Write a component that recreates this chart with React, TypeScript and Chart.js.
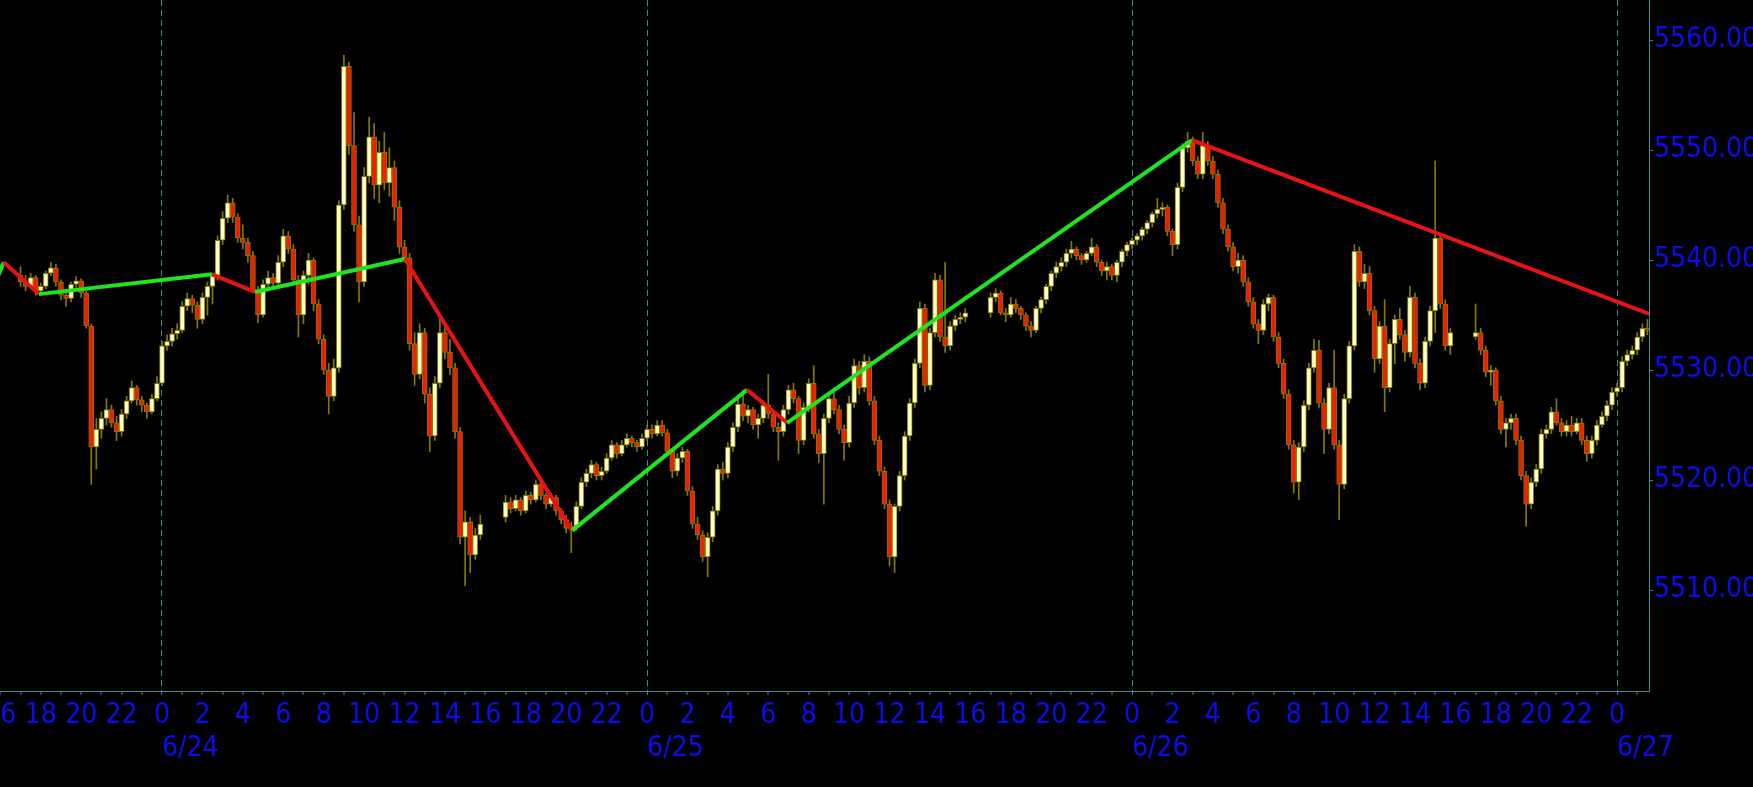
import React, { useEffect, useRef } from 'react';
import { Chart, registerables } from 'chart.js';

Chart.register(...registerables);

// ---- data -------------------------------------------------------------
// 15-minute candles [open, high, low, close]; hours relative to 6/24 00:00
const BAR_HOURS = 0.25;

const session1Start = -7; // 6/23 17:00
const session1: number[][] = [
  [5538.6, 5539.4, 5537.6, 5538.0], [5538.0, 5538.6, 5537.2, 5537.6], [5537.6, 5538.8, 5537.4, 5538.4], [5538.4, 5538.6, 5536.8, 5537.2],
  [5537.2, 5537.9, 5536.9, 5537.6], [5537.6, 5539.0, 5537.4, 5538.8], [5538.8, 5539.8, 5538.6, 5539.3], [5539.3, 5539.6, 5537.6, 5538.0],
  [5538.0, 5538.2, 5536.4, 5536.8], [5536.8, 5537.2, 5535.8, 5536.5], [5536.5, 5538.0, 5536.2, 5537.8], [5537.8, 5538.5, 5537.5, 5538.1],
  [5538.1, 5538.3, 5536.6, 5537.0], [5537.0, 5537.2, 5533.8, 5534.0], [5534.0, 5534.2, 5519.6, 5523.0], [5523.0, 5525.6, 5521.0, 5524.6],
  [5524.6, 5526.2, 5523.8, 5525.6], [5525.6, 5527.4, 5525.0, 5526.4], [5526.4, 5526.8, 5524.8, 5525.2], [5525.2, 5525.8, 5523.6, 5524.4],
  [5524.4, 5526.4, 5524.0, 5526.0], [5526.0, 5527.6, 5525.6, 5527.2], [5527.2, 5529.0, 5527.0, 5528.4], [5528.4, 5528.6, 5526.8, 5527.3],
  [5527.3, 5527.6, 5526.2, 5526.8], [5526.8, 5527.0, 5525.6, 5526.2], [5526.2, 5527.8, 5526.0, 5527.4], [5527.4, 5529.4, 5527.2, 5528.8],
  [5528.8, 5532.6, 5528.6, 5532.2], [5532.2, 5533.2, 5531.8, 5532.6], [5532.6, 5533.8, 5532.2, 5533.3], [5533.3, 5534.2, 5532.8, 5533.6],
  [5533.6, 5536.2, 5533.4, 5535.8], [5535.8, 5537.0, 5535.4, 5536.5], [5536.5, 5536.8, 5535.2, 5535.9], [5535.9, 5536.2, 5533.8, 5534.6],
  [5534.6, 5537.0, 5534.2, 5536.6], [5536.6, 5538.0, 5535.0, 5537.6], [5537.6, 5538.8, 5536.0, 5538.6], [5538.6, 5542.2, 5538.2, 5541.8],
  [5541.8, 5544.4, 5541.4, 5543.8], [5543.8, 5545.9, 5543.4, 5545.2], [5545.2, 5545.6, 5543.4, 5543.9], [5543.9, 5544.2, 5541.6, 5542.0],
  [5542.0, 5543.2, 5541.0, 5541.6], [5541.6, 5542.0, 5539.8, 5540.4], [5540.4, 5540.8, 5537.0, 5537.2], [5537.2, 5537.6, 5534.3, 5535.0],
  [5535.0, 5538.2, 5534.8, 5537.8], [5537.8, 5539.0, 5537.2, 5538.4], [5538.4, 5538.8, 5537.4, 5537.9], [5537.9, 5540.4, 5537.6, 5539.8],
  [5539.8, 5542.8, 5539.4, 5542.2], [5542.2, 5542.6, 5540.6, 5541.0], [5541.0, 5541.4, 5537.8, 5538.2], [5538.2, 5538.6, 5533.0, 5535.0],
  [5535.0, 5539.0, 5534.2, 5538.6], [5538.6, 5540.6, 5537.8, 5540.0], [5540.0, 5540.2, 5535.4, 5536.0], [5536.0, 5536.4, 5532.4, 5532.8],
  [5532.8, 5533.2, 5529.6, 5530.0], [5530.0, 5530.6, 5526.0, 5527.6], [5527.6, 5531.0, 5527.2, 5530.2], [5530.2, 5545.4, 5529.8, 5545.0],
  [5545.0, 5558.6, 5544.6, 5557.6], [5557.6, 5558.0, 5549.6, 5550.4], [5550.4, 5553.4, 5542.6, 5543.2], [5543.2, 5544.0, 5536.2, 5538.0],
  [5538.0, 5548.4, 5537.6, 5547.6], [5547.6, 5553.0, 5547.0, 5551.2], [5551.2, 5552.4, 5545.6, 5546.8], [5546.8, 5550.8, 5545.2, 5549.8],
  [5549.8, 5551.6, 5546.4, 5547.0], [5547.0, 5550.2, 5545.8, 5548.4], [5548.4, 5549.0, 5543.6, 5544.8], [5544.8, 5545.4, 5540.6, 5541.2],
  [5541.2, 5541.8, 5539.8, 5540.2], [5540.2, 5540.6, 5531.8, 5532.4], [5532.4, 5533.4, 5528.6, 5529.6], [5529.6, 5534.2, 5529.2, 5533.4],
  [5533.4, 5533.8, 5527.0, 5527.8], [5527.8, 5528.4, 5522.6, 5524.0], [5524.0, 5529.4, 5523.6, 5528.8], [5528.8, 5534.6, 5528.4, 5533.4],
  [5533.4, 5534.0, 5531.0, 5531.6], [5531.6, 5532.8, 5529.6, 5530.2], [5530.2, 5530.6, 5523.8, 5524.4], [5524.4, 5524.8, 5514.2, 5514.8],
  [5514.8, 5517.2, 5510.4, 5516.2], [5516.2, 5516.6, 5511.6, 5513.2], [5513.2, 5515.6, 5512.8, 5515.0], [5515.0, 5516.8, 5514.6, 5516.0],
];

const session2Start = 17; // 6/24 17:00
const session2: number[][] = [
  [5516.6, 5518.6, 5516.2, 5518.0], [5518.0, 5518.4, 5517.0, 5517.4], [5517.4, 5518.6, 5517.2, 5518.2], [5518.2, 5518.4, 5516.8, 5517.2],
  [5517.2, 5519.0, 5517.0, 5518.6], [5518.6, 5518.9, 5517.8, 5518.2], [5518.2, 5520.0, 5518.0, 5519.6], [5519.6, 5519.8, 5518.2, 5518.6],
  [5518.6, 5518.8, 5517.4, 5517.8], [5517.8, 5518.8, 5517.6, 5518.4], [5518.4, 5518.6, 5516.8, 5517.2], [5517.2, 5517.4, 5516.0, 5516.4],
  [5516.4, 5516.8, 5515.2, 5515.6], [5515.6, 5516.2, 5513.4, 5515.8], [5515.8, 5518.0, 5515.4, 5517.6], [5517.6, 5520.2, 5517.4, 5519.8],
  [5519.8, 5521.0, 5519.4, 5520.6], [5520.6, 5521.8, 5520.2, 5521.4], [5521.4, 5521.6, 5520.0, 5520.4], [5520.4, 5521.2, 5520.0, 5520.8],
  [5520.8, 5522.4, 5520.6, 5522.0], [5522.0, 5523.6, 5521.8, 5523.2], [5523.2, 5523.4, 5522.0, 5522.4], [5522.4, 5523.6, 5522.2, 5523.2],
  [5523.2, 5524.2, 5523.0, 5523.8], [5523.8, 5524.0, 5523.0, 5523.4], [5523.4, 5523.6, 5522.6, 5523.0], [5523.0, 5524.2, 5522.8, 5523.8],
  [5523.8, 5525.0, 5523.6, 5524.6], [5524.6, 5525.0, 5523.8, 5524.2], [5524.2, 5525.4, 5524.0, 5525.0], [5525.0, 5525.4, 5524.0, 5524.3],
  [5524.3, 5524.6, 5522.2, 5522.6], [5522.6, 5522.8, 5520.2, 5520.8], [5520.8, 5522.4, 5520.4, 5522.0], [5522.0, 5523.0, 5521.6, 5522.6],
  [5522.6, 5522.8, 5518.6, 5519.0], [5519.0, 5519.4, 5515.6, 5516.0], [5516.0, 5516.6, 5514.6, 5515.0], [5515.0, 5515.4, 5512.6, 5513.0],
  [5513.0, 5515.2, 5511.2, 5514.8], [5514.8, 5517.6, 5514.4, 5517.2], [5517.2, 5521.4, 5516.8, 5521.0], [5521.0, 5521.6, 5520.0, 5520.6],
  [5520.6, 5523.4, 5520.2, 5523.0], [5523.0, 5525.2, 5522.6, 5524.8], [5524.8, 5527.4, 5524.4, 5526.9], [5526.9, 5528.2, 5525.4, 5525.8],
  [5525.8, 5526.8, 5525.2, 5526.4], [5526.4, 5526.6, 5524.6, 5525.0], [5525.0, 5526.0, 5523.8, 5525.6], [5525.6, 5527.2, 5525.2, 5526.8],
  [5526.8, 5529.6, 5525.6, 5526.0], [5526.0, 5526.4, 5524.4, 5524.8], [5524.8, 5525.2, 5521.8, 5524.4], [5524.4, 5526.8, 5524.0, 5526.4],
  [5526.4, 5528.6, 5526.0, 5528.2], [5528.2, 5528.8, 5527.0, 5527.4], [5527.4, 5527.6, 5522.4, 5523.6], [5523.6, 5527.0, 5523.2, 5526.6],
  [5526.6, 5529.2, 5526.2, 5528.8], [5528.8, 5530.4, 5523.8, 5524.2], [5524.2, 5524.6, 5521.6, 5522.4], [5522.4, 5526.0, 5517.8, 5525.6],
  [5525.6, 5527.8, 5525.2, 5527.4], [5527.4, 5528.4, 5526.0, 5526.4], [5526.4, 5526.8, 5524.2, 5524.6], [5524.6, 5525.0, 5521.8, 5523.4],
  [5523.4, 5527.6, 5523.0, 5527.0], [5527.0, 5531.0, 5526.6, 5530.4], [5530.4, 5530.8, 5527.8, 5528.4], [5528.4, 5531.4, 5528.0, 5530.8],
  [5530.8, 5531.2, 5526.8, 5527.2], [5527.2, 5527.6, 5523.2, 5523.6], [5523.6, 5524.0, 5520.4, 5520.8], [5520.8, 5521.2, 5517.4, 5517.8],
  [5517.8, 5518.2, 5512.2, 5513.0], [5513.0, 5517.8, 5511.6, 5517.6], [5517.6, 5520.8, 5517.2, 5520.4], [5520.4, 5524.4, 5520.0, 5524.0],
  [5524.0, 5527.4, 5523.6, 5527.0], [5527.0, 5531.0, 5526.6, 5530.6], [5530.6, 5536.2, 5530.2, 5535.6], [5535.6, 5536.0, 5528.0, 5528.6],
  [5528.6, 5533.8, 5528.2, 5533.4], [5533.4, 5538.8, 5533.0, 5538.2], [5538.2, 5538.6, 5532.6, 5533.0], [5533.0, 5539.8, 5531.6, 5532.2],
  [5532.2, 5534.4, 5531.8, 5534.0], [5534.0, 5535.0, 5533.6, 5534.6], [5534.6, 5535.2, 5534.2, 5534.8], [5534.8, 5535.6, 5534.4, 5535.2],
];

const session3Start = 41; // 6/25 17:00
const session3: number[][] = [
  [5535.2, 5537.0, 5534.8, 5536.6], [5536.6, 5537.4, 5536.2, 5537.0], [5537.0, 5537.2, 5535.0, 5535.2], [5535.2, 5535.6, 5534.4, 5535.0],
  [5535.0, 5536.6, 5534.8, 5536.0], [5536.0, 5536.4, 5535.2, 5535.6], [5535.6, 5535.8, 5534.6, 5535.0], [5535.0, 5535.2, 5533.6, 5534.0],
  [5534.0, 5534.4, 5533.0, 5533.6], [5533.6, 5535.8, 5533.4, 5535.6], [5535.6, 5536.6, 5535.2, 5536.4], [5536.4, 5537.8, 5536.0, 5537.6],
  [5537.6, 5539.0, 5537.2, 5538.8], [5538.8, 5539.8, 5538.4, 5539.4], [5539.4, 5540.2, 5539.0, 5539.8], [5539.8, 5541.0, 5539.4, 5540.6],
  [5540.6, 5541.7, 5540.2, 5541.0], [5541.0, 5541.2, 5540.0, 5540.4], [5540.4, 5540.6, 5539.6, 5540.0], [5540.0, 5540.8, 5539.8, 5540.6],
  [5540.6, 5542.0, 5540.4, 5541.2], [5541.2, 5541.4, 5539.4, 5539.8], [5539.8, 5540.0, 5538.6, 5539.0], [5539.0, 5539.8, 5538.2, 5539.4],
  [5539.4, 5539.6, 5538.2, 5538.6], [5538.6, 5540.0, 5538.0, 5539.8], [5539.8, 5541.0, 5539.4, 5540.8], [5540.8, 5541.6, 5540.4, 5541.4],
  [5541.4, 5542.0, 5541.0, 5541.8], [5541.8, 5542.4, 5541.4, 5542.2], [5542.2, 5543.0, 5541.8, 5542.8], [5542.8, 5543.6, 5542.4, 5543.4],
  [5543.4, 5544.4, 5543.0, 5544.2], [5544.2, 5545.6, 5543.8, 5544.6], [5544.6, 5545.2, 5544.0, 5544.8], [5544.8, 5545.0, 5542.2, 5542.6],
  [5542.6, 5542.8, 5540.4, 5541.4], [5541.4, 5547.0, 5541.0, 5546.6], [5546.6, 5550.6, 5546.2, 5550.2], [5550.2, 5551.6, 5549.8, 5550.8],
  [5550.8, 5551.2, 5548.6, 5549.0], [5549.0, 5549.4, 5547.4, 5547.8], [5547.8, 5551.6, 5547.4, 5550.4], [5550.4, 5550.8, 5548.6, 5549.0],
  [5549.0, 5549.4, 5547.4, 5547.8], [5547.8, 5548.2, 5544.8, 5545.2], [5545.2, 5545.6, 5542.4, 5542.8], [5542.8, 5543.2, 5540.8, 5541.2],
  [5541.2, 5541.6, 5539.0, 5539.4], [5539.4, 5540.6, 5538.8, 5540.0], [5540.0, 5540.4, 5537.6, 5538.0], [5538.0, 5538.4, 5535.8, 5536.2],
  [5536.2, 5536.6, 5533.8, 5534.2], [5534.2, 5534.6, 5532.4, 5533.6], [5533.6, 5536.4, 5533.2, 5536.0], [5536.0, 5536.9, 5535.4, 5536.6],
  [5536.6, 5536.8, 5532.6, 5533.0], [5533.0, 5533.4, 5530.2, 5530.6], [5530.6, 5531.0, 5527.4, 5527.8], [5527.8, 5528.2, 5522.8, 5523.2],
  [5523.2, 5523.6, 5518.8, 5519.8], [5519.8, 5523.4, 5518.2, 5523.0], [5523.0, 5527.2, 5522.6, 5526.8], [5526.8, 5530.6, 5526.4, 5530.2],
  [5530.2, 5532.8, 5529.8, 5531.8], [5531.8, 5532.7, 5526.6, 5527.0], [5527.0, 5527.4, 5522.4, 5524.6], [5524.6, 5528.8, 5524.2, 5528.4],
  [5528.4, 5531.8, 5522.8, 5523.2], [5523.2, 5523.6, 5516.4, 5519.6], [5519.6, 5527.8, 5519.2, 5527.4], [5527.4, 5532.6, 5527.0, 5532.2],
  [5532.2, 5541.4, 5531.8, 5540.8], [5540.8, 5541.2, 5537.6, 5538.0], [5538.0, 5539.6, 5537.4, 5538.8], [5538.8, 5539.4, 5535.0, 5535.4],
  [5535.4, 5535.8, 5529.8, 5531.0], [5531.0, 5534.4, 5530.6, 5534.0], [5534.0, 5536.4, 5526.2, 5528.4], [5528.4, 5532.8, 5528.0, 5532.4],
  [5532.4, 5535.0, 5530.6, 5534.6], [5534.6, 5535.6, 5532.8, 5533.2], [5533.2, 5533.6, 5530.8, 5531.6], [5531.6, 5537.6, 5531.2, 5536.6],
  [5536.6, 5537.0, 5530.2, 5530.6], [5530.6, 5531.0, 5528.2, 5528.8], [5528.8, 5533.0, 5528.4, 5532.6], [5532.6, 5535.8, 5532.2, 5535.4],
  [5535.4, 5549.0, 5533.4, 5542.0], [5542.0, 5542.4, 5535.6, 5536.0], [5536.0, 5536.4, 5531.8, 5532.2], [5532.2, 5533.8, 5531.4, 5533.4],
];

const session4Start = 65; // 6/26 17:00
const session4: number[][] = [
  [5533.0, 5536.0, 5532.8, 5533.4], [5533.4, 5533.8, 5531.4, 5531.8], [5531.8, 5532.2, 5529.4, 5529.8], [5529.8, 5530.4, 5528.6, 5530.0],
  [5530.0, 5530.2, 5526.8, 5527.2], [5527.2, 5527.6, 5524.2, 5524.6], [5524.6, 5525.6, 5523.0, 5525.2], [5525.2, 5526.0, 5524.6, 5525.6],
  [5525.6, 5526.0, 5523.2, 5523.6], [5523.6, 5524.0, 5520.0, 5520.4], [5520.4, 5520.8, 5515.8, 5517.8], [5517.8, 5520.2, 5517.4, 5519.8],
  [5519.8, 5521.4, 5519.4, 5521.0], [5521.0, 5524.6, 5520.6, 5524.2], [5524.2, 5525.0, 5523.8, 5524.6], [5524.6, 5526.6, 5524.2, 5526.2],
  [5526.2, 5527.4, 5525.0, 5525.2], [5525.2, 5525.6, 5524.0, 5524.4], [5524.4, 5525.4, 5524.0, 5525.0], [5525.0, 5525.8, 5524.0, 5524.4],
  [5524.4, 5525.6, 5524.2, 5525.2], [5525.2, 5525.6, 5523.2, 5523.6], [5523.6, 5524.0, 5521.7, 5522.4], [5522.4, 5524.0, 5522.0, 5523.6],
  [5523.6, 5525.4, 5523.2, 5525.0], [5525.0, 5526.2, 5524.8, 5525.8], [5525.8, 5527.2, 5525.4, 5526.8], [5526.8, 5528.4, 5526.4, 5528.0],
  [5528.0, 5528.8, 5527.6, 5528.4], [5528.4, 5531.2, 5528.0, 5530.8], [5530.8, 5531.8, 5530.4, 5531.4], [5531.4, 5532.2, 5531.0, 5531.8],
  [5531.8, 5533.4, 5531.4, 5533.0], [5533.0, 5534.2, 5532.6, 5533.8], [5533.8, 5534.6, 5533.2, 5533.6],
];

// zigzag swing line
const zigzagHours = [-8.1, -7.83, -6.09, 2.47, 4.6, 12.02, 20.29, 28.95, 30.93, 50.97, 73.6];
const zigzagPrices = [5538.6, 5539.8, 5536.9, 5538.7, 5537.1, 5540.1, 5515.4, 5528.2, 5525.2, 5550.9, 5535.1];

// axes
const dayStarts = [0, 24, 48, 72];
const dayLabels = ['6/24', '6/25', '6/26', '6/27'];
const priceTicks = [5510, 5520, 5530, 5540, 5550, 5560];
const X_MIN = -8.016;
const X_MAX = 73.58;
const Y_MIN = 5500.82;
const Y_MAX = 5563.64;

// ---- style -------------------------------------------------------------
const BG = '#000000';
const UP = '#ffffc4';
const DOWN = '#f01e00';
const OUTLINE = '#857a00';
const AXIS = '#3c8f8f';
const LABEL = '#0c0cee';
const GREEN = '#1ee61e';
const RED = '#e81414';
const FONT = "'DejaVu Sans Condensed', 'DejaVu Sans', sans-serif";
const FONT_SIZE = 28;

export default function App() {
  const ref = useRef<HTMLCanvasElement | null>(null);

  useEffect(() => {
    const canvas = ref.current;
    if (!canvas) return;

    const sessions = [
      { start: session1Start, bars: session1 },
      { start: session2Start, bars: session2 },
      { start: session3Start, bars: session3 },
      { start: session4Start, bars: session4 },
    ];
    const candles: { x: number; o: number; h: number; l: number; c: number }[] = [];
    sessions.forEach((s) =>
      s.bars.forEach((b, i) => candles.push({ x: s.start + i * BAR_HOURS, o: b[0], h: b[1], l: b[2], c: b[3] }))
    );

    const bodyData = candles.map((c) => ({ x: c.x, y: [c.o, c.c] }));
    const wickData = candles.map((c) => ({ x: c.x, y: [c.l, c.h] }));
    const bodyColors = candles.map((c) => (c.c >= c.o ? UP : DOWN));
    const zigzag = zigzagHours.map((h, i) => ({ x: h, y: zigzagPrices[i] }));

    const hourTicks: number[] = [];
    for (let h = Math.ceil(X_MIN); h <= Math.floor(X_MAX); h++) hourTicks.push(h);

    const chart = new Chart(canvas, {
      type: 'bar',
      data: {
        datasets: [
          {
            type: 'line',
            data: zigzag as any,
            borderWidth: 4,
            borderColor: GREEN,
            pointRadius: 0,
            tension: 0,
            order: 0,
            segment: {
              borderColor: (ctx: any) => (ctx.p1.parsed.y >= ctx.p0.parsed.y ? GREEN : RED),
            },
          } as any,
          {
            type: 'bar',
            data: bodyData as any,
            backgroundColor: bodyColors,
            borderColor: OUTLINE,
            borderWidth: 1,
            borderSkipped: false,
            barThickness: 5,
            grouped: false,
            order: 1,
          } as any,
          {
            type: 'bar',
            data: wickData as any,
            backgroundColor: OUTLINE,
            borderWidth: 0,
            barThickness: 1,
            grouped: false,
            order: 2,
          } as any,
        ],
      },
      options: {
        animation: false,
        responsive: false,
        maintainAspectRatio: false,
        events: [],
        layout: { padding: 0, autoPadding: false } as any,
        plugins: { legend: { display: false }, tooltip: { enabled: false } },
        scales: {
          x: {
            type: 'linear',
            position: 'bottom',
            min: X_MIN,
            max: X_MAX,
            bounds: 'data',
            offset: false,
            weight: 1,
            grid: {
              offset: false,
              display: true,
              drawOnChartArea: true,
              drawTicks: true,
              tickLength: 4,
              tickColor: AXIS,
              tickWidth: 1,
              color: (ctx: any) => (ctx.tick && ctx.tick.value % 24 === 0 ? AXIS : 'rgba(0,0,0,0)'),
              lineWidth: (ctx: any) => (ctx.tick && ctx.tick.value % 24 === 0 ? 1 : 0),
            },
            border: { display: true, color: AXIS, width: 1, dash: [6, 4] },
            afterBuildTicks: (s: any) => {
              s.ticks = hourTicks.map((v) => ({ value: v }));
            },
            afterFit: (s: any) => {
              s.height = 33;
              s.paddingLeft = 0;
              s.paddingRight = 0;
            },
            ticks: {
              autoSkip: false,
              maxRotation: 0,
              minRotation: 0,
              padding: 4,
              color: LABEL,
              font: { family: FONT, size: FONT_SIZE },
              callback: (v: any) => {
                const n = Number(v);
                if (Math.abs(n % 2) !== 0) return '';
                return String(((n % 24) + 24) % 24);
              },
            },
          } as any,
          x2: {
            type: 'linear',
            position: 'bottom',
            min: X_MIN,
            max: X_MAX,
            bounds: 'data',
            offset: false,
            weight: 2,
            grid: { display: false, offset: false },
            border: { display: false },
            afterBuildTicks: (s: any) => {
              s.ticks = dayStarts.map((v) => ({ value: v }));
            },
            afterFit: (s: any) => {
              s.height = 63;
              s.paddingLeft = 0;
              s.paddingRight = 0;
            },
            ticks: {
              autoSkip: false,
              maxRotation: 0,
              minRotation: 0,
              align: 'start',
              padding: 0,
              color: LABEL,
              font: { family: FONT, size: FONT_SIZE },
              callback: (_v: any, i: number) => dayLabels[i],
            },
          } as any,
          y: {
            type: 'linear',
            position: 'right',
            min: Y_MIN,
            max: Y_MAX,
            bounds: 'data',
            grid: {
              display: true,
              drawOnChartArea: false,
              drawTicks: true,
              tickLength: 4,
              tickColor: AXIS,
              tickWidth: 1,
            },
            border: { display: true, color: AXIS, width: 1 },
            afterBuildTicks: (s: any) => {
              s.ticks = priceTicks.map((v) => ({ value: v }));
            },
            afterFit: (s: any) => {
              s.width = 104;
              s.paddingTop = 0;
              s.paddingBottom = 0;
            },
            ticks: {
              padding: 1,
              color: LABEL,
              font: { family: FONT, size: FONT_SIZE },
              callback: (v: any) => Number(v).toFixed(2),
            },
          } as any,
        },
      },
    });

    return () => chart.destroy();
  }, []);

  return (
    <div style={{ position: 'fixed', left: 0, top: 0, width: 1753, height: 787, background: BG, overflow: 'hidden' }}>
      <canvas ref={ref} width={1753} height={787} style={{ display: 'block', width: 1753, height: 787, background: BG }} />
    </div>
  );
}
